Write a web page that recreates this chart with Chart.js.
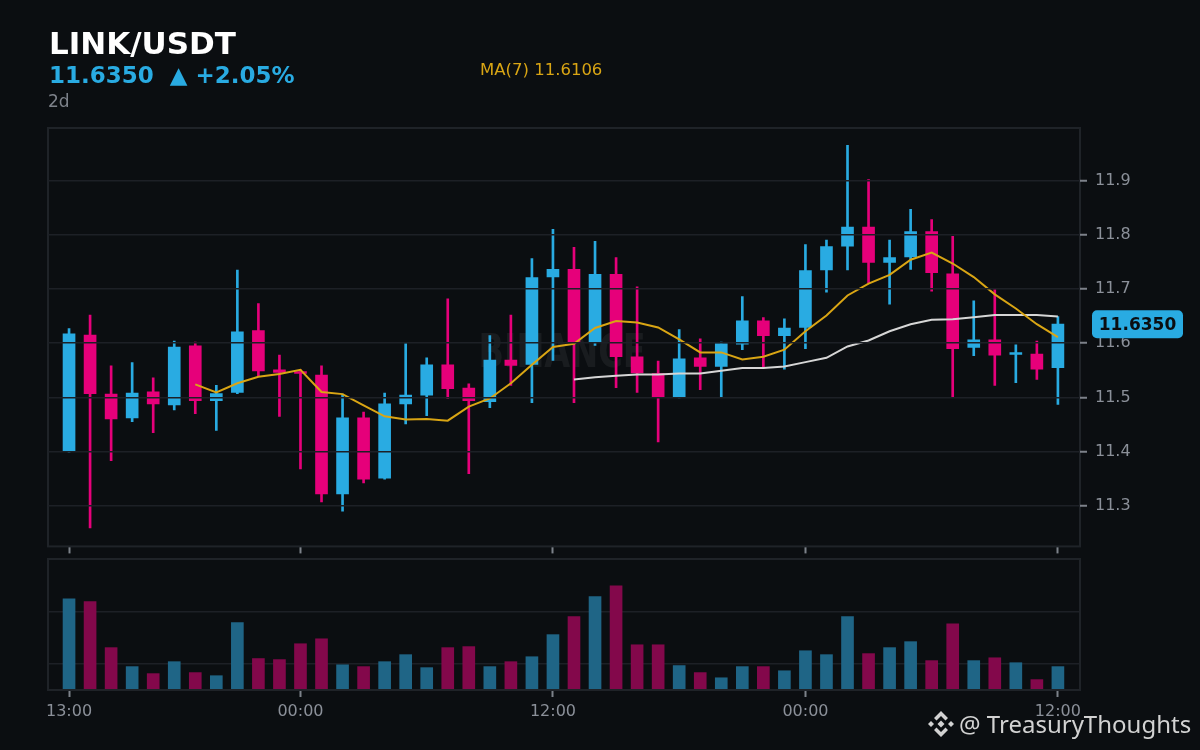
<!DOCTYPE html>
<html><head><meta charset="utf-8">
<script src="https://cdn.jsdelivr.net/npm/chart.js@4.4.1/dist/chart.umd.min.js"></script>
<style>
html,body{margin:0;padding:0;background:#0b0e11;width:1200px;height:750px;overflow:hidden;font-family:"DejaVu Sans",sans-serif;}
#c1{position:absolute;left:0;top:0;}
#c2{position:absolute;left:0;top:556px;}
.t{position:absolute;white-space:pre;line-height:1;}
</style></head><body>
<canvas id="c1" width="1200" height="564"></canvas>
<canvas id="c2" width="1200" height="194"></canvas>
<div class="t" style="left:49px;top:28px;font-size:31px;font-weight:bold;color:#ffffff">LINK/USDT</div>
<div class="t" style="left:49px;top:64px;font-size:23px;font-weight:bold;color:#29abe2">11.6350  ▲ +2.05%</div>
<div class="t" style="left:48px;top:93px;font-size:17px;color:#7d828a">2d</div>
<div class="t" style="left:480px;top:62px;font-size:16.5px;color:#d9a514">MA(7) 11.6106</div>
<svg style="position:absolute;left:927px;top:710px" width="28" height="28" viewBox="0 0 28 28">
  <g fill="#d2d2d2">
    <polygon points="14,10.5 17.5,14 14,17.5 10.5,14"/>
    <polygon points="4,11 7,14 4,17 1,14"/>
    <polygon points="24,11 27,14 24,17 21,14"/>
    <polygon points="14,1 21,8 18.5,10.5 14,6 9.5,10.5 7,8"/>
    <polygon points="14,27 21,20 18.5,17.5 14,22 9.5,17.5 7,20"/>
  </g>
</svg>
<div class="t" style="left:959px;top:712px;font-size:24px;font-family:'Noto Sans',sans-serif;color:#d2d2d2">@ TreasuryThoughts</div>
<script>
const opens  = [11.401,11.615,11.506,11.462,11.510,11.486,11.595,11.494,11.509,11.623,11.551,11.546,11.541,11.322,11.462,11.351,11.488,11.504,11.560,11.517,11.492,11.569,11.561,11.722,11.736,11.601,11.727,11.575,11.544,11.501,11.573,11.557,11.598,11.641,11.614,11.629,11.735,11.779,11.814,11.749,11.759,11.806,11.728,11.592,11.606,11.579,11.580,11.555];
const highs  = [11.627,11.652,11.558,11.564,11.536,11.604,11.602,11.522,11.735,11.673,11.578,11.551,11.558,11.506,11.473,11.508,11.599,11.573,11.682,11.525,11.614,11.652,11.756,11.810,11.777,11.788,11.758,11.704,11.567,11.625,11.608,11.602,11.686,11.647,11.645,11.782,11.790,11.965,11.902,11.790,11.847,11.828,11.797,11.678,11.699,11.597,11.604,11.649];
const lows   = [11.399,11.259,11.383,11.455,11.435,11.477,11.470,11.439,11.507,11.540,11.465,11.368,11.307,11.290,11.342,11.349,11.451,11.466,11.498,11.359,11.481,11.522,11.490,11.568,11.490,11.596,11.518,11.509,11.418,11.499,11.514,11.500,11.588,11.554,11.552,11.590,11.694,11.735,11.711,11.672,11.736,11.696,11.500,11.577,11.522,11.527,11.533,11.487];
const closes = [11.617,11.507,11.460,11.508,11.488,11.593,11.494,11.507,11.621,11.549,11.546,11.544,11.322,11.462,11.349,11.488,11.504,11.560,11.516,11.494,11.569,11.559,11.721,11.736,11.601,11.727,11.575,11.545,11.501,11.571,11.557,11.599,11.641,11.614,11.628,11.734,11.778,11.814,11.749,11.758,11.806,11.730,11.590,11.606,11.578,11.580,11.552,11.635];
const volumes = [351,340,163,90,63,109,67,55,259,121,117,178,197,97,90,109,136,86,163,167,90,109,128,213,282,359,401,174,174,94,67,47,90,90,74,151,136,282,140,163,186,113,255,113,124,105,40,90];
const ma7 = [null,null,null,null,null,null,11.524,11.509,11.526,11.538,11.543,11.551,11.510,11.506,11.485,11.465,11.459,11.460,11.457,11.483,11.498,11.526,11.560,11.593,11.599,11.628,11.641,11.638,11.629,11.607,11.583,11.583,11.570,11.575,11.588,11.622,11.651,11.688,11.710,11.726,11.754,11.767,11.747,11.722,11.690,11.664,11.635,11.611];
const ma25 = [null,null,null,null,null,null,null,null,null,null,null,null,null,null,null,null,null,null,null,null,null,null,null,null,11.533,11.537,11.540,11.542,11.542,11.544,11.544,11.549,11.554,11.554,11.557,11.565,11.573,11.594,11.605,11.622,11.635,11.643,11.644,11.648,11.652,11.652,11.652,11.649];
const xTickPos = [0,11,23,35,47];
const xTickLabels = ['13:00','00:00','12:00','00:00','12:00'];
const priceTicks = [11.3,11.4,11.5,11.6,11.7,11.8,11.9];
const volumeTicks = [100,300];

const UP='#29abe2', DOWN='#e6007a', VUP='#1f6586', VDOWN='#83084b';
const GRID='#1d2026', FRAME='#1f2328', TICK='#7d828a', LABEL='#8b9099';
const FONT='"DejaVu Sans", sans-serif';
const N = closes.length;
const idx = closes.map((_, i) => i);
const isUp = idx.map(i => closes[i] >= opens[i]);

const framePlugin = {
  id:'frame',
  afterDatasetsDraw(chart){
    const a = chart.chartArea, ctx = chart.ctx;
    ctx.save(); ctx.strokeStyle = FRAME; ctx.lineWidth = 2;
    ctx.strokeRect(a.left, a.top, a.right - a.left, a.bottom - a.top);
    ctx.restore();
  }
};
const watermarkPlugin = {
  id:'wm',
  beforeDatasetsDraw(chart){
    const ctx = chart.ctx;
    ctx.save();
    ctx.font = 'bold 46px ' + FONT;
    ctx.fillStyle = 'rgba(255,255,255,0.06)';
    ctx.textAlign = 'center'; ctx.textBaseline = 'alphabetic';
    const w = ctx.measureText('BINANCE').width;
    ctx.translate(562, 367);
    ctx.scale(167 / w, 1);
    ctx.fillText('BINANCE', 0, 0);
    ctx.restore();
  }
};
const priceLabelPlugin = {
  id:'plabel',
  afterDraw(chart){
    const ctx = chart.ctx, v = closes[N-1];
    const py = chart.scales.y.getPixelForValue(v);
    ctx.save();
    ctx.fillStyle = UP;
    ctx.beginPath();
    ctx.roundRect(1092, py - 14, 91, 28, 5);
    ctx.fill();
    ctx.fillStyle = '#0b0e11';
    ctx.font = 'bold 17px ' + FONT;
    ctx.textAlign = 'center'; ctx.textBaseline = 'middle';
    ctx.fillText(v.toFixed(4), 1137.5, py + 1);
    ctx.restore();
  }
};

const xCommon = {
  type:'linear', min:-1, max:48.05, offset:false,
  border:{display:false},
  grid:{offset:false, color:'transparent', drawOnChartArea:false, tickColor:TICK, tickLength:7, tickWidth:2},
  afterBuildTicks: s => { s.ticks = xTickPos.map(v => ({value:v})); }
};

new Chart(document.getElementById('c1'), {
  type:'bar',
  data:{
    datasets:[
      {type:'line', data: idx.filter(i => ma7[i] !== null).map(i => ({x:i, y:ma7[i]})), borderColor:'#d9a514', borderWidth:2, pointRadius:0, tension:0},
      {type:'line', data: idx.filter(i => ma25[i] !== null).map(i => ({x:i, y:ma25[i]})), borderColor:'#d6d6d6', borderWidth:2, pointRadius:0, tension:0},
      {type:'bar', data: idx.map(i => ({x:i, y:[opens[i], closes[i]]})), backgroundColor: idx.map(i => isUp[i] ? UP : DOWN), barThickness:12, grouped:false, minBarLength:2, borderSkipped:false},
      {type:'bar', data: idx.map(i => ({x:i, y:[lows[i], highs[i]]})), backgroundColor: idx.map(i => isUp[i] ? UP : DOWN), barThickness:2, grouped:false, borderSkipped:false}
    ]
  },
  options:{
    responsive:false, animation:false,
    layout:{padding:{left:48, top:128, right:0, bottom:0}},
    plugins:{legend:{display:false}, tooltip:{enabled:false}},
    scales:{
      x: Object.assign({}, xCommon, {ticks:{display:false}, afterFit: s => { s.height = 10; }}),
      y:{
        position:'right', min:11.225, max:11.997,
        border:{display:false},
        grid:{color:GRID, lineWidth:1.5, tickColor:TICK, tickLength:7, tickWidth:2, z:1},
        ticks:{color:LABEL, font:{family:FONT, size:16}, padding:8, callback: v => Number(v).toFixed(1)},
        afterBuildTicks: s => { s.ticks = priceTicks.map(v => ({value:v})); },
        afterFit: s => { s.width = 120; }
      }
    }
  },
  plugins:[framePlugin, watermarkPlugin, priceLabelPlugin]
});

new Chart(document.getElementById('c2'), {
  type:'bar',
  data:{
    datasets:[
      {data: idx.map(i => ({x:i, y:volumes[i]})), backgroundColor: idx.map(i => isUp[i] ? VUP : VDOWN), barThickness:12, borderSkipped:false}
    ]
  },
  options:{
    responsive:false, animation:false,
    layout:{padding:{left:48, top:3, right:0, bottom:0}},
    plugins:{legend:{display:false}, tooltip:{enabled:false}},
    scales:{
      x: Object.assign({}, xCommon, {
        ticks:{display:true, color:LABEL, font:{family:FONT, size:16}, padding:5, maxRotation:0, autoSkip:false,
          callback: v => { const k = xTickPos.indexOf(v); return k >= 0 ? xTickLabels[k] : ''; }},
        afterFit: s => { s.height = 60; }
      }),
      y:{
        position:'right', min:0, max:504,
        border:{display:false},
        grid:{color:GRID, lineWidth:1.5, drawTicks:false},
        ticks:{display:false},
        afterBuildTicks: s => { s.ticks = volumeTicks.map(v => ({value:v})); },
        afterFit: s => { s.width = 120; }
      }
    }
  },
  plugins:[framePlugin]
});
</script>
</body></html>
